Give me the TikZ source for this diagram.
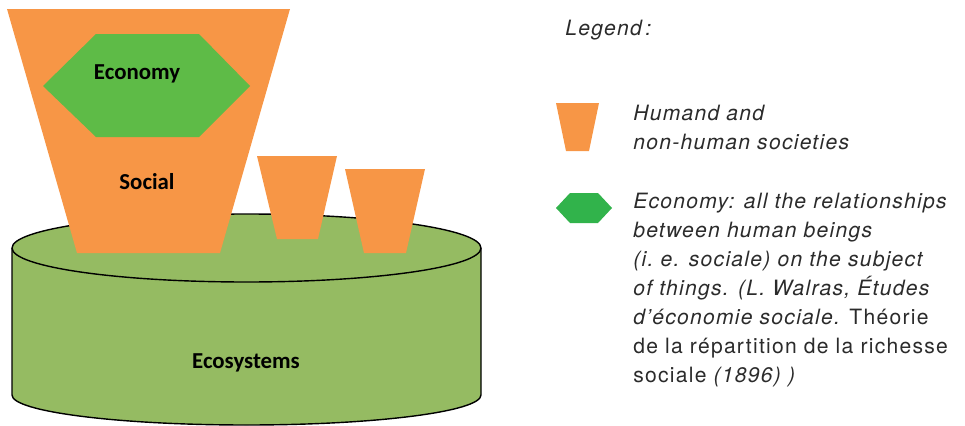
\documentclass[tikz,border=0pt]{standalone}
\usepackage{fontspec}
\setmainfont{TeX Gyre Heros}
\newfontfamily\tagfont{Carlito}
\newfontfamily\keyfont[LetterSpace=6]{TeX Gyre Heros}
\usetikzlibrary{positioning}
\definecolor{potorange}{HTML}{F79646}
\definecolor{econgreen}{HTML}{5EBB47}
\definecolor{ecogreen}{HTML}{95BB62}
\definecolor{keygreen}{HTML}{31B34B}
\definecolor{keytext}{HTML}{2B2B2B}
\tikzset{
  pot/.style={fill=potorange},
  hexa/.style={fill=econgreen},
  eco/.style={draw=black, line width=0.8pt, fill=ecogreen},
  tag/.style={font=\tagfont\bfseries\fontsize{13}{15}\selectfont, inner sep=0pt},
  key/.style={font=\keyfont\fontsize{12}{16.5}\selectfont\itshape, text=keytext, align=left, inner sep=0pt}
}

\begin{document}
\begin{tikzpicture}[x=0.02cm, y=-0.02cm]
    \useasboundingbox (0,0) rectangle (965,426);

    % ecosystems cylinder
    \draw[eco] (12,248) -- (12,395) arc[start angle=180, end angle=0, x radius=234.5, y radius=30]
        -- (481,248) arc[start angle=0, end angle=-180, x radius=234.5, y radius=34] -- cycle;
    \draw[eco, fill=none] (12,248) arc[start angle=180, end angle=0, x radius=234.5, y radius=34];

    % societies
    \fill[pot] (7,9) -- (290,9) -- (220,253) -- (77,253) -- cycle;
    \fill[pot] (257,156) -- (337,156) -- (318,239) -- (277,239) -- cycle;
    \fill[pot] (345,169) -- (425,169) -- (406,253) -- (364,253) -- cycle;

    % economy
    \fill[hexa] (43,86) -- (96,34) -- (199,34) -- (250,86) -- (199,137) -- (96,137) -- cycle;

    \node[tag] (economy) at (137,74) {Economy};
    \node[tag] (social) at (147,182) {Social};
    \node[tag] (ecosystems) at (246,363) {Ecosystems};

    % legend (base = last line)
    \node[key, anchor=base west] (legend) at (565,35) {Legend\,:};

    \fill[pot] (556,103) -- (599,103) -- (589,151) -- (566,151) -- cycle;
    \node[key, anchor=base west] (societies) at (633,149) {Humand and\\non-human societies};

    \fill[keygreen] (556,208) -- (570,193) -- (598,193) -- (612,208) -- (598,223) -- (570,223) -- cycle;
    \node[key, anchor=base west] (economydef) at (633,382) {Economy: all the relationships\\between human beings\\(i.\ e. sociale) on the subject\\of things. (L. Walras, Études\\d’économie sociale. {\upshape Théorie}\\{\upshape de la répartition de la richesse}\\{\upshape sociale} (1896) )};
\end{tikzpicture}
\end{document}
